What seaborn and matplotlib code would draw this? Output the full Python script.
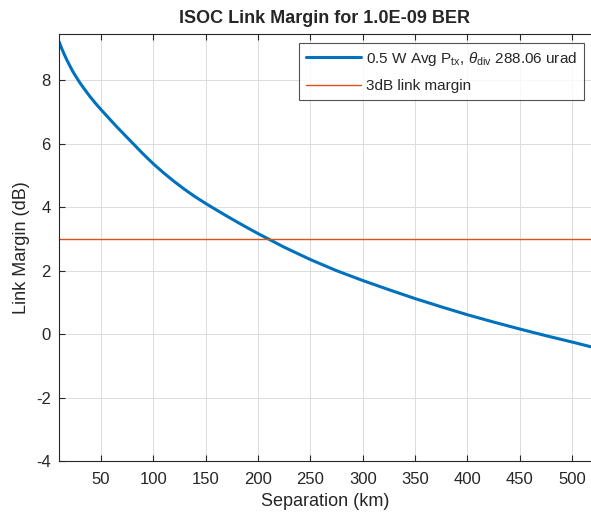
import numpy as np
import pandas as pd
import matplotlib
matplotlib.use("Agg")
import matplotlib.pyplot as plt
import seaborn as sns

# Values
separation_km = [10, 12.5, 15, 17.5, 20, 22.5, 25, 27.5, 30, 35, 40, 45, 50, 55, 60, 65,
                 70, 75, 80, 85, 90, 95, 100, 110, 120, 130, 140, 150, 160, 170, 180,
                 190, 200, 225, 250, 275, 300, 325, 350, 375, 400, 425, 450, 475, 500, 518]
link_margin_db = [9.22, 9.01, 8.82, 8.64, 8.48, 8.32, 8.18, 8.05, 7.92, 7.69, 7.47, 7.27,
                  7.08, 6.90, 6.72, 6.54, 6.37, 6.20, 6.03, 5.86, 5.69, 5.53, 5.37, 5.08,
                  4.81, 4.56, 4.33, 4.12, 3.92, 3.725, 3.535, 3.35, 3.17, 2.74, 2.35,
                  2.00, 1.69, 1.40, 1.12, 0.86, 0.61, 0.38, 0.16, -0.05, -0.25, -0.40]
threshold_db = 3.0
x_ticks = [50, 100, 150, 200, 250, 300, 350, 400, 450, 500]
y_ticks = [-4, -2, 0, 2, 4, 6, 8]

sns.set_style("white")
plt.rcParams['font.family'] = ['Liberation Sans', 'DejaVu Sans']
plt.rcParams['mathtext.fontset'] = 'custom'
plt.rcParams['mathtext.rm'] = 'Liberation Sans'
plt.rcParams['mathtext.it'] = 'Liberation Sans:italic'
plt.rcParams['axes.unicode_minus'] = False

df = pd.DataFrame({'sep': separation_km, 'lm': link_margin_db})
df_thr = pd.DataFrame({'sep': [separation_km[0], separation_km[-1]],
                       'lm': [threshold_db, threshold_db]})

fig = plt.figure(figsize=(5.91, 5.13), dpi=100)
ax = fig.add_axes([59 / 591, 1 - 461 / 513, 1 - 59 / 591, (461 - 34) / 513])

sns.lineplot(data=df, x='sep', y='lm', ax=ax, color='#0072BD', linewidth=2.2,
             label=r'0.5 W Avg P$_{\rm tx}$, $\theta_{\rm div}$ 288.06 urad')
sns.lineplot(data=df_thr, x='sep', y='lm', ax=ax, color='#D95319', linewidth=1.0,
             label='3dB link margin')

ax.set_xlim(10, 518)
ax.set_ylim(-4, 9.46)
ax.set_xticks(x_ticks)
ax.set_yticks(y_ticks)
ax.grid(True, color='#dcdcdc', linewidth=0.7)
ax.tick_params(direction='in', length=4, width=0.8, color='#262626',
               labelsize=12, labelcolor='#262626', top=True, bottom=True, left=True)
ax.tick_params(axis='x', pad=8)
ax.tick_params(axis='y', pad=6)
for side in ['left', 'bottom', 'top']:
    ax.spines[side].set_color('#262626')
    ax.spines[side].set_linewidth(0.8)
ax.spines['right'].set_visible(False)

ax.set_xlabel('Separation (km)', fontsize=13, color='#262626', labelpad=4)
ax.set_ylabel('Link Margin (dB)', fontsize=13, color='#262626', labelpad=4)
ax.set_title('ISOC Link Margin for 1.0E-09 BER', fontsize=13, fontweight='bold', pad=8)

leg = ax.legend(loc='upper right', bbox_to_anchor=(0.995, 0.99), fontsize=11,
                frameon=True, fancybox=False, handlelength=3.6, borderpad=0.45,
                labelspacing=0.75, handletextpad=0.3, borderaxespad=0.3)
leg.get_frame().set_edgecolor('#262626')
leg.get_frame().set_linewidth(0.8)

plt.savefig('out.png', dpi=100)
